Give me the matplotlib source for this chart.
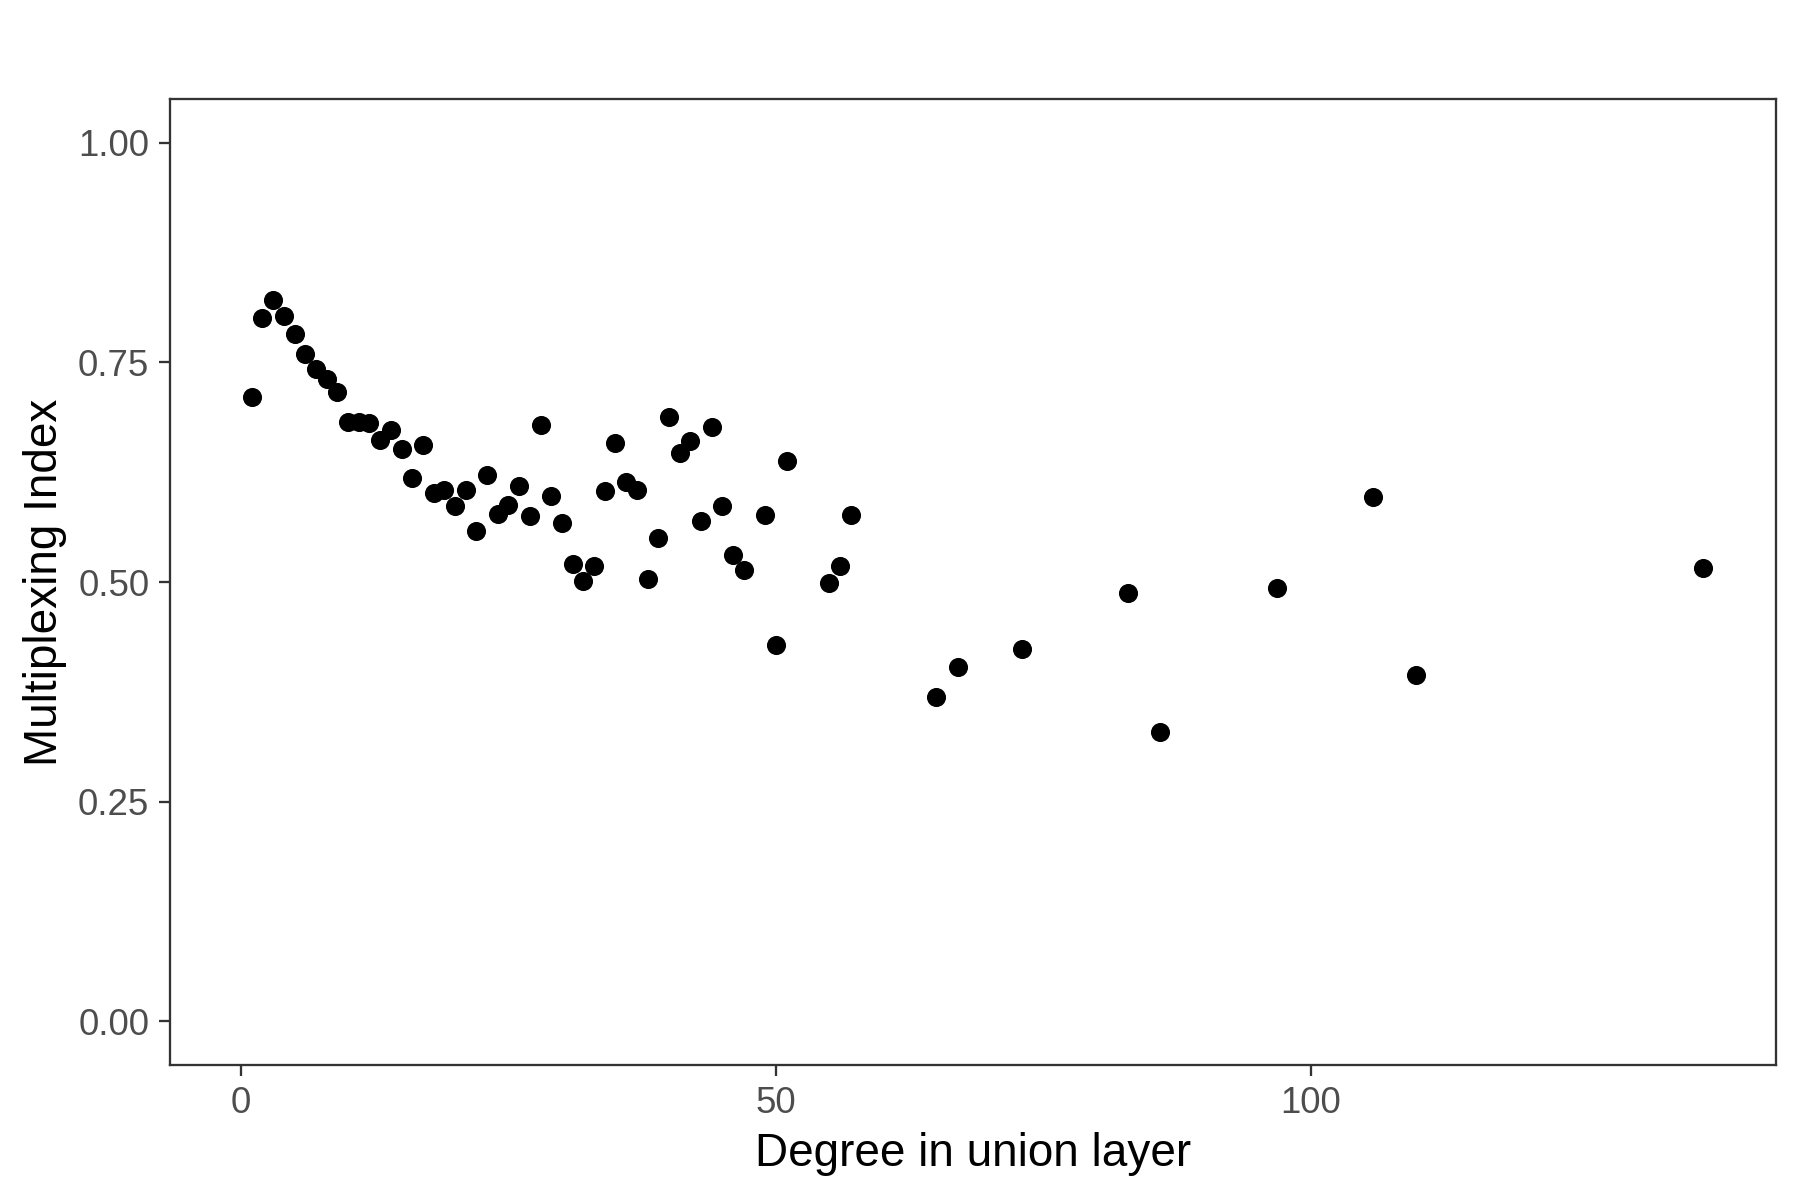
import matplotlib
matplotlib.use("Agg")
import matplotlib.pyplot as plt

# degree in union layer vs multiplexing index
degree = [1, 2, 3, 4, 5, 6, 7, 8, 9, 10, 11, 12, 13, 14, 15, 16, 17, 18, 19, 20,
          21, 22, 23, 24, 25, 26, 27, 28, 29, 30, 31, 32, 33, 34, 35, 36, 37, 38, 39, 40,
          41, 42, 43, 44, 45, 46, 47, 49, 50, 51, 55, 56, 57, 65, 67, 73, 82.9, 85.9, 96.8, 105.8,
          109.8, 136.7]
mplex = [0.711, 0.800, 0.821, 0.803, 0.782, 0.759, 0.743, 0.731, 0.716, 0.682,
         0.682, 0.681, 0.662, 0.673, 0.651, 0.618, 0.656, 0.601, 0.605, 0.587,
         0.605, 0.558, 0.622, 0.578, 0.588, 0.609, 0.575, 0.679, 0.598, 0.567,
         0.520, 0.501, 0.518, 0.604, 0.658, 0.614, 0.605, 0.503, 0.550, 0.688,
         0.647, 0.661, 0.570, 0.677, 0.587, 0.531, 0.514, 0.576, 0.428, 0.638,
         0.499, 0.518, 0.576, 0.369, 0.403, 0.424, 0.488, 0.329, 0.493, 0.597,
         0.394, 0.516]

plt.rcParams['font.family'] = ['Liberation Sans', 'DejaVu Sans']

fig = plt.figure(figsize=(6, 4), dpi=300)
ax = fig.add_axes([0.0944, 0.1122, 0.8923, 0.8055])

ax.scatter(degree, mplex, s=21, color="black", linewidths=0, zorder=3)

ax.set_xlim(-6.65, 143.5)
ax.set_ylim(-0.05, 1.05)
ax.set_xticks([0, 50, 100])
ax.set_yticks([0, 0.25, 0.5, 0.75, 1.0])
ax.set_yticklabels(["0.00", "0.25", "0.50", "0.75", "1.00"])

for sp in ax.spines.values():
    sp.set_color("#333333")
    sp.set_linewidth(0.55)
ax.tick_params(direction="out", length=2.75, width=0.55, color="#333333",
               labelcolor="#4D4D4D", labelsize=8.8, pad=2.2)

ax.set_xlabel("Degree in union layer", fontsize=11, labelpad=2.75)
ax.set_ylabel("Multiplexing Index", fontsize=11, labelpad=2.75)

fig.savefig("out.png", dpi=300)
